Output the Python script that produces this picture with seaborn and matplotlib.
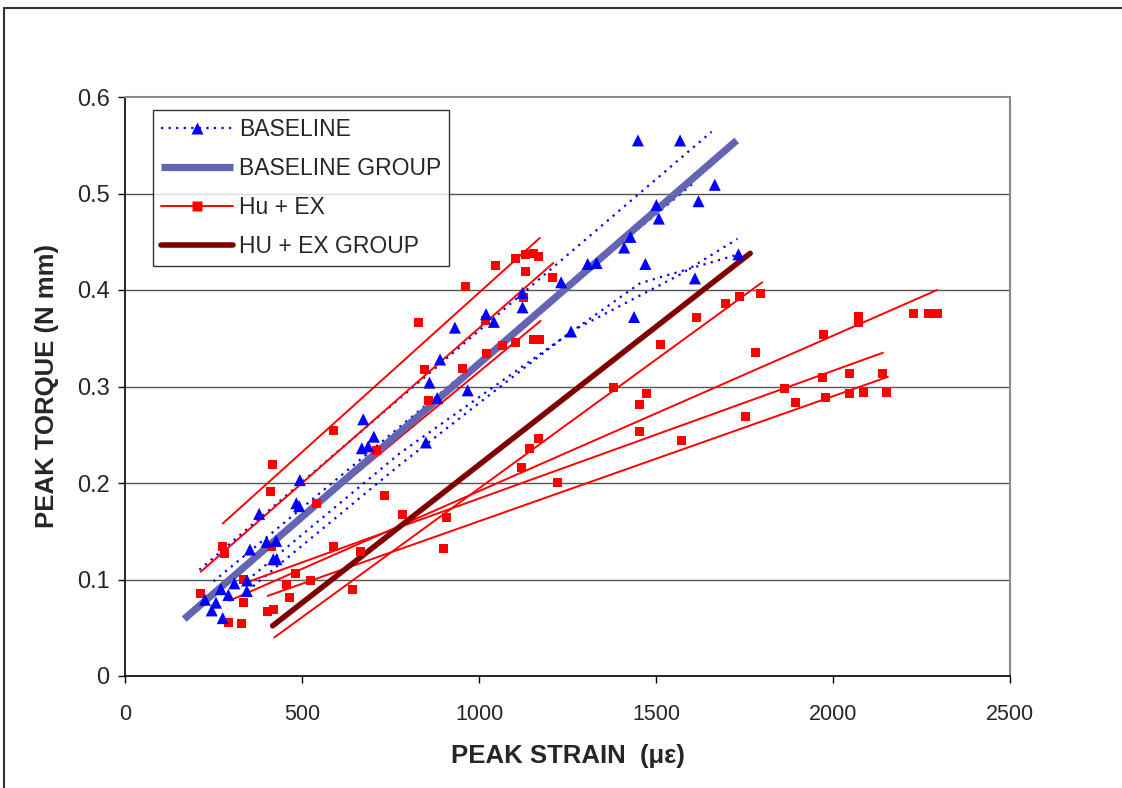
import numpy as np
import pandas as pd
import matplotlib
matplotlib.use("Agg")
import matplotlib.pyplot as plt
from matplotlib.lines import Line2D
import seaborn as sns

# ---------------- data ----------------
base_x = [1449, 1568, 1666, 1620, 1501, 1508, 1428, 1410, 1470, 1438, 1610, 1733, 1307, 1332,
          1232, 1260, 1123, 1123, 1020, 1042, 932, 890, 968, 860, 882, 850, 703, 673, 669, 687,
          494, 484, 492, 379, 353, 400, 427, 419, 428, 344, 345, 309, 271, 292, 226, 257, 245, 276]
base_y = [0.555, 0.555, 0.509, 0.492, 0.488, 0.474, 0.455, 0.444, 0.427, 0.372, 0.412, 0.437, 0.427, 0.428,
          0.408, 0.357, 0.397, 0.382, 0.375, 0.367, 0.361, 0.328, 0.296, 0.304, 0.288, 0.242, 0.248, 0.266, 0.236, 0.238,
          0.203, 0.179, 0.176, 0.168, 0.131, 0.139, 0.140, 0.121, 0.121, 0.088, 0.099, 0.096, 0.090, 0.084, 0.079, 0.076, 0.068, 0.060]

hu_x = [589, 416, 412, 540, 734, 784, 907, 901, 275, 280, 414, 589, 666, 483, 334, 525, 457, 212, 334, 466,
        643, 402, 420, 293, 329, 857, 711,
        1102, 1130, 1154, 1167, 1130, 1048, 1208, 962, 830, 1125, 1017, 1022, 1067, 1103, 1153, 1170, 847, 953, 858,
        1735, 1695, 1613, 1513, 1381, 1472, 1453, 1453, 1572, 1754, 1167, 1144, 1121, 1221,
        1796, 1973, 2073, 2073, 2228, 2269, 2296, 2048, 2140, 2048, 2086, 2150, 1780, 1862, 1969, 1980, 1895]
hu_y = [0.254, 0.219, 0.191, 0.179, 0.187, 0.167, 0.164, 0.132, 0.134, 0.127, 0.134, 0.134, 0.129, 0.106, 0.100, 0.099, 0.095, 0.086, 0.076, 0.081,
        0.090, 0.067, 0.069, 0.055, 0.054, 0.285, 0.234,
        0.433, 0.437, 0.438, 0.435, 0.419, 0.425, 0.413, 0.404, 0.366, 0.392, 0.368, 0.334, 0.343, 0.346, 0.349, 0.349, 0.318, 0.319, 0.286,
        0.393, 0.386, 0.372, 0.344, 0.299, 0.293, 0.281, 0.253, 0.244, 0.269, 0.246, 0.236, 0.216, 0.201,
        0.396, 0.354, 0.373, 0.366, 0.376, 0.376, 0.376, 0.313, 0.313, 0.293, 0.294, 0.294, 0.335, 0.298, 0.309, 0.289, 0.283]

# baseline specimen lines (dotted): vertices per specimen
base_line_id = [1, 1, 2, 2, 3, 3, 3, 3, 4, 4, 4, 4, 4]
base_line_x  = [210, 1657, 250, 1610, 345, 777, 1455, 1733, 345, 777, 1260, 1563, 1730]
base_line_y  = [0.110, 0.564, 0.098, 0.512, 0.099, 0.231, 0.407, 0.437, 0.088, 0.219, 0.357, 0.415, 0.453]

# Hu + EX specimen trend lines (solid red)
hu_line_id = [1, 1, 2, 2, 3, 3, 4, 4, 5, 5, 6, 6, 7, 7]
hu_line_x  = [276, 1172, 214, 1210, 334, 1174, 422, 1800, 295, 2294, 336, 2141, 403, 2155]
hu_line_y  = [0.158, 0.454, 0.108, 0.428, 0.113, 0.368, 0.040, 0.408, 0.078, 0.400, 0.096, 0.335, 0.083, 0.310]

# group lines
base_group_x = [167, 1728]
base_group_y = [0.059, 0.555]
hu_group_x = [417, 1766]
hu_group_y = [0.052, 0.438]

x_ticks = [0, 500, 1000, 1500, 2000, 2500]
y_ticks = [0, 0.1, 0.2, 0.3, 0.4, 0.5, 0.6]
y_tick_labels = ["0", "0.1", "0.2", "0.3", "0.4", "0.5", "0.6"]
legend_labels = ["BASELINE", "BASELINE GROUP", "Hu + EX", "HU + EX GROUP"]

# ---------------- style ----------------
sns.set_theme(style="white")
plt.rcParams["font.family"] = ["Liberation Sans", "DejaVu Sans"]

BLUE = "#0000FF"
RED = "#FF0000"
BGROUP = "#6464B4"
HGROUP = "#800000"

fig = plt.figure(figsize=(11.22, 7.88), dpi=100)
ax = fig.add_axes([125 / 1122, 1 - 676 / 788, (1010 - 125) / 1122, (676 - 97) / 788])

# gridlines
for yv in y_ticks[1:-1]:
    ax.axhline(yv, color="#555555", lw=1.0, zorder=0)

dotted = (0, (1.0, 2.4))

bl = pd.DataFrame({"id": base_line_id, "x": base_line_x, "y": base_line_y})
sns.lineplot(data=bl, x="x", y="y", units="id", estimator=None, sort=False, ax=ax,
             color=BLUE, lw=1.6, linestyle=dotted, legend=False, zorder=2)

hl = pd.DataFrame({"id": hu_line_id, "x": hu_line_x, "y": hu_line_y})
sns.lineplot(data=hl, x="x", y="y", units="id", estimator=None, sort=False, ax=ax,
             color=RED, lw=1.4, legend=False, zorder=2)

bg = pd.DataFrame({"x": base_group_x, "y": base_group_y})
sns.lineplot(data=bg, x="x", y="y", ax=ax, color=BGROUP, lw=5.2, legend=False, zorder=3,
             solid_capstyle="butt")
hg = pd.DataFrame({"x": hu_group_x, "y": hu_group_y})
sns.lineplot(data=hg, x="x", y="y", ax=ax, color=HGROUP, lw=4.0, legend=False, zorder=3,
             solid_capstyle="round")

sns.scatterplot(x=hu_x, y=hu_y, ax=ax, marker="s", color=RED, s=42, edgecolor="none",
                legend=False, zorder=4)
sns.scatterplot(x=base_x, y=base_y, ax=ax, marker="^", color=BLUE, s=75, edgecolor="none",
                legend=False, zorder=5)

ax.set_xlim(0, 2500)
ax.set_ylim(0, 0.6)
ax.set_xticks(x_ticks)
ax.set_xticklabels([str(v) for v in x_ticks])
ax.set_yticks(y_ticks)
ax.set_yticklabels(y_tick_labels)
ax.tick_params(axis="both", which="both", direction="out", length=5, width=1, color="black",
               bottom=True, left=True)
ax.tick_params(axis="x", pad=15, labelsize=15.5)
ax.tick_params(axis="y", pad=6, labelsize=17)
ax.set_xlabel("PEAK STRAIN  (\u03bc\u03b5)", fontsize=18.5, fontweight="bold", labelpad=14)
ax.set_ylabel("PEAK TORQUE (N mm)", fontsize=18.5, fontweight="bold", labelpad=13)

for side in ["left", "bottom"]:
    ax.spines[side].set_color("black")
    ax.spines[side].set_linewidth(1.2)
for side in ["top", "right"]:
    ax.spines[side].set_color("#8a8a8a")
    ax.spines[side].set_linewidth(1.5)

handles = [
    Line2D([], [], color=BLUE, lw=1.6, linestyle=dotted, marker="^", markersize=9, markeredgecolor="none"),
    Line2D([], [], color=BGROUP, lw=5.2, solid_capstyle="butt"),
    Line2D([], [], color=RED, lw=1.4, marker="s", markersize=7, markeredgecolor="none"),
    Line2D([], [], color=HGROUP, lw=4.0, solid_capstyle="round"),
]
leg = ax.legend(handles, legend_labels, loc="upper left", bbox_to_anchor=(28 / 885, 1 - 13 / 579),
                frameon=True, fancybox=False, edgecolor="black", fontsize=16.5, handlelength=3.15,
                handletextpad=0.25, labelspacing=0.7, borderpad=0.35, borderaxespad=0)
leg.get_frame().set_linewidth(1.0)

# outer figure frame
fig.add_artist(Line2D([4 / 1122, 4 / 1122], [0, 1 - 8 / 788], transform=fig.transFigure, color="#333333", lw=1.5))
fig.add_artist(Line2D([4 / 1122, 1], [1 - 8 / 788, 1 - 8 / 788], transform=fig.transFigure, color="#333333", lw=1.5))

fig.savefig("out.png", dpi=100)
